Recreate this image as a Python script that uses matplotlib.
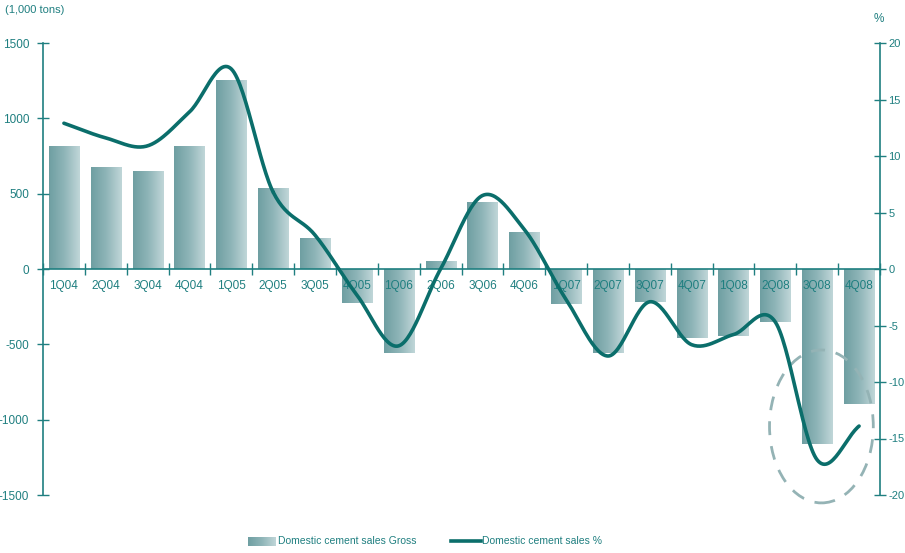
import numpy as np
import matplotlib
matplotlib.use('Agg')
import matplotlib.pyplot as plt
from matplotlib.colors import LinearSegmentedColormap
from matplotlib.patches import Ellipse

plt.rcParams['font.family'] = ['Liberation Sans', 'DejaVu Sans']

quarters = ['1Q04', '2Q04', '3Q04', '4Q04', '1Q05', '2Q05', '3Q05', '4Q05',
            '1Q06', '2Q06', '3Q06', '4Q06', '1Q07', '2Q07', '3Q07', '4Q07',
            '1Q08', '2Q08', '3Q08', '4Q08']
gross = [816, 677, 650, 816, 1254, 537, 206, -226, -557, 53,
         445, 245, -232, -557, -219, -458, -445, -352, -1161, -896]
pct = [12.9, 11.6, 10.9, 13.9, 17.7, 6.8, 3.0, -2.3, -6.8, 0.0,
       6.5, 3.5, -2.7, -7.7, -2.9, -6.7, -5.8, -4.7, -16.9, -13.9]

teal = '#1f7f80'
line_col = '#0b6e6b'
grad = LinearSegmentedColormap.from_list('g', ['#6f9fa2', '#8fb5b8', '#c0d6d8'])


def smooth(x, y, n=30):
    # catmull-rom through the points
    x = np.asarray(x, float)
    y = np.asarray(y, float)
    px = np.concatenate([[2 * x[0] - x[1]], x, [2 * x[-1] - x[-2]]])
    py = np.concatenate([[2 * y[0] - y[1]], y, [2 * y[-1] - y[-2]]])
    xs, ys = [], []
    t = np.linspace(0, 1, n)
    for i in range(1, len(px) - 2):
        for p, out in ((px, xs), (py, ys)):
            p0, p1, p2, p3 = p[i - 1], p[i], p[i + 1], p[i + 2]
            out.extend(0.5 * (2 * p1 + (-p0 + p2) * t
                              + (2 * p0 - 5 * p1 + 4 * p2 - p3) * t ** 2
                              + (-p0 + 3 * p1 - 3 * p2 + p3) * t ** 3))
    return np.array(xs), np.array(ys)


fig = plt.figure(figsize=(9.05, 5.53), dpi=100)
ax = fig.add_axes([43 / 905, 58 / 553, 837 / 905, 452 / 553])
ax2 = ax.twinx()

x = np.arange(len(quarters))
bw = 0.72
gimg = np.linspace(0, 1, 64).reshape(1, -1)
bars = ax.bar(x, gross, width=bw, color='none', edgecolor='none')
for b in bars:
    x0, y0 = b.get_x(), b.get_y()
    w, h = b.get_width(), b.get_height()
    im = ax.imshow(gimg, cmap=grad, aspect='auto', interpolation='bilinear',
                   extent=[x0, x0 + w, min(y0, y0 + h), max(y0, y0 + h)], zorder=1)
    im.set_clip_path(b)

ax.set_xlim(-0.5, len(quarters) - 0.5)
ax.set_ylim(-1500, 1500)
ax.set_yticks([-1500, -1000, -500, 0, 500, 1000, 1500])
ax.set_yticklabels(['-1500', '-1000', '-500', '0', '500', '1000', '1500'])
ax.set_xticks(np.arange(len(quarters) + 1) - 0.5)
ax.set_xticklabels([])
ax.set_xticks(x, minor=True)
ax.set_xticklabels(quarters, minor=True)
ax.tick_params(axis='x', which='major', direction='inout', length=8, color=teal, width=1)
ax.tick_params(axis='x', which='minor', length=0, pad=8, labelsize=8.5, labelcolor=teal)
ax.tick_params(axis='y', direction='inout', length=8, color=teal, width=1,
               labelsize=8.5, labelcolor=teal, pad=6)

for s in ['top', 'right']:
    ax.spines[s].set_visible(False)
ax.spines['bottom'].set_position(('data', 0))
ax.spines['bottom'].set_color(teal)
ax.spines['left'].set_color(teal)
ax.spines['bottom'].set_linewidth(1.2)
ax.spines['left'].set_linewidth(1.2)

sx, sy = smooth(x, pct)
ax2.plot(sx, sy, color=line_col, lw=2.6, solid_capstyle='round', zorder=3)
ax2.set_ylim(-20, 20)
ax2.set_yticks([-20, -15, -10, -5, 0, 5, 10, 15, 20])
ax2.set_yticklabels(['-20', '-15', '-10', '-5', '0', '5', '10', '15', '20'])
ax2.tick_params(axis='y', direction='inout', length=8, color=teal, width=1,
                labelsize=8, labelcolor=teal, pad=2)
for s in ['top', 'left', 'bottom']:
    ax2.spines[s].set_visible(False)
ax2.spines['right'].set_color(teal)
ax2.spines['right'].set_linewidth(1.2)

# highlight around the last two quarters
ax.add_patch(Ellipse((18.1, -1045), 2.48, 1015, fill=False, ls=(0, (5, 4)),
                     lw=2, ec='#94b3b5', clip_on=False, zorder=4))

fig.text(5 / 905, 1 - 10 / 553, '(1,000 tons)', fontsize=8, color=teal, va='center')
fig.text(879 / 905, 1 - 19 / 553, '%', fontsize=8.5, color=teal, va='center', ha='center')

# legend
lax = fig.add_axes([248 / 905, 1 - 546 / 553, 27 / 905, 9 / 553])
lax.imshow(gimg, cmap=grad, aspect='auto', interpolation='bilinear')
lax.axis('off')
fig.text(278 / 905, 1 - 541 / 553, 'Domestic cement sales Gross', fontsize=7.5,
         color=teal, va='center')
fig.add_artist(plt.Line2D([451 / 905, 481 / 905], [1 - 541 / 553] * 2,
                          color=line_col, lw=2.6, transform=fig.transFigure))
fig.text(482 / 905, 1 - 541 / 553, 'Domestic cement sales %', fontsize=7.5,
         color=teal, va='center')

fig.savefig('out.png', dpi=100)
